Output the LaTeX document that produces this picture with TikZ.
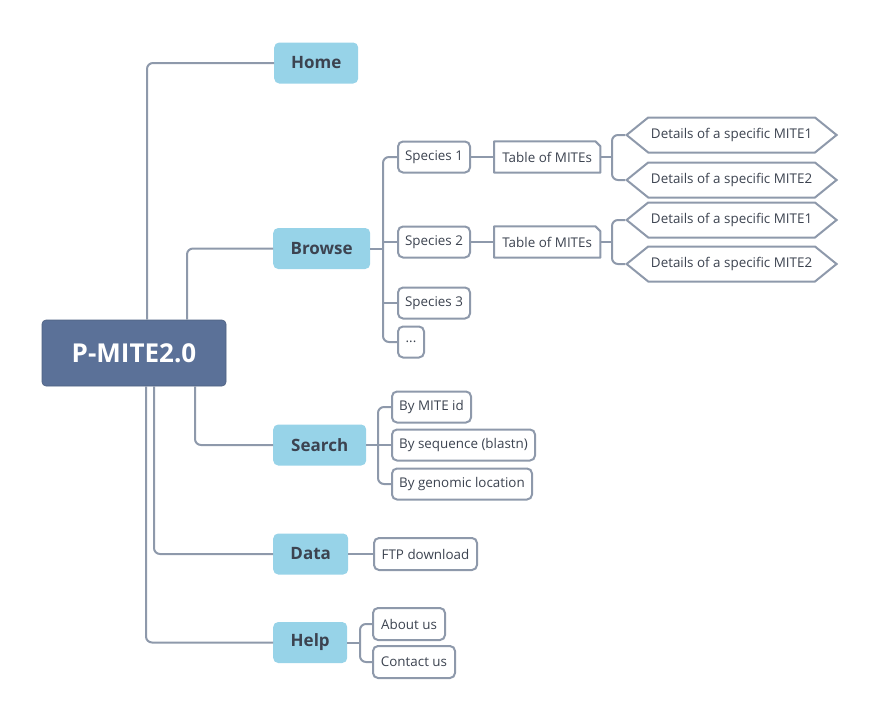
\documentclass[tikz,border=0pt]{standalone}
\usepackage{fontspec}
\setmainfont{Open Sans}
\usetikzlibrary{shapes.symbols}
\definecolor{rootfill}{HTML}{5B7198}
\definecolor{topfill}{HTML}{97D3E8}
\definecolor{linec}{HTML}{8E99AB}
\definecolor{txt}{HTML}{3C4350}
\tikzset{
  conn/.style={draw=linec, line width=2pt, rounded corners=6pt},
  rootbox/.style={fill=rootfill, draw=rootfill!85!black, line width=0.6pt, rounded corners=4pt, text=white,
     minimum width=184pt, minimum height=66pt, inner sep=0pt, font=\fontsize{26}{30}\selectfont\bfseries},
  topbox/.style={fill=topfill, draw=none, rounded corners=5pt, text=txt, anchor=west,
     minimum height=41pt, inner sep=0pt, font=\fontsize{17}{20}\selectfont\bfseries},
  leaf/.style={fill=white, draw=linec, line width=2pt, rounded corners=5pt, text=txt, anchor=west,
     minimum height=31pt, inner sep=0pt, font=\fontsize{13.4}{16}\selectfont},
  tablebox/.style={text=txt, anchor=west, minimum height=31pt, minimum width=106pt, inner sep=0pt,
     font=\fontsize{13.4}{16}\selectfont},
  hexbox/.style={shape=signal, signal to=west and east, signal pointer angle=78, fill=white, draw=linec,
     line width=2pt, text=txt, anchor=west, minimum height=35pt, minimum width=210pt, inner sep=0pt,
     font=\fontsize{13.4}{16}\selectfont},
}
\begin{document}
\begin{tikzpicture}[x=1pt,y=-1pt]
\useasboundingbox (0,0) rectangle (876,720);

% top-level
\node[rootbox] (root) at (134,353) {P-MITE2.0};
\node[topbox, minimum width=84pt] (home) at (274,63) {Home};
\node[topbox, minimum width=97pt] (browse) at (273,248.5) {Browse};
\node[topbox, minimum width=93pt] (search) at (273,445) {Search};
\node[topbox, minimum width=75pt] (data) at (273,554) {Data};
\node[topbox, minimum width=74pt] (help) at (273,642.5) {Help};

% root connectors
\draw[conn] ([xshift=13pt]root.north) |- (home.west);
\draw[conn] ([xshift=53pt]root.north) |- (browse.west);
\draw[conn] ([xshift=61pt]root.south) |- (search.west);
\draw[conn] ([xshift=20pt]root.south) |- (data.west);
\draw[conn] ([xshift=12pt]root.south) |- (help.west);

% Browse children
\node[leaf, minimum width=72pt] (sp1) at (397,157) {Species 1};
\node[leaf, minimum width=72pt] (sp2) at (397,242) {Species 2};
\node[leaf, minimum width=72pt] (sp3) at (397,303) {Species 3};
\node[leaf, minimum width=26pt] (dots) at (397,342) {...};
\coordinate (bt) at (383,248.5);
\draw[conn] (browse.east) -- (bt);
\draw[conn] (sp1.west) -| (bt) |- (dots.west);
\draw[conn] (bt |- sp2) -- (sp2.west);
\draw[conn] (bt |- sp3) -- (sp3.west);

% Tables
\node[tablebox] (t1) at (494,157) {};
\node[tablebox] (t2) at (494,242) {};
\foreach \t in {t1,t2}{
  \draw[draw=linec, line width=2pt, fill=white, line join=round]
    (\t.south west) -- (\t.north west) -- ([xshift=-5pt]\t.north east) -- ([yshift=-5pt]\t.north east)
    -- (\t.south east) -- cycle;
  \node[tablebox] at (\t.west) {Table of MITEs};
}
\draw[conn] (sp1.east) -- (t1.west);
\draw[conn] (sp2.east) -- (t2.west);

% Details
\node[hexbox] (d11) at (625,135) {Details of a specific MITE1};
\node[hexbox] (d12) at (625,180) {Details of a specific MITE2};
\node[hexbox] (d21) at (625,220) {Details of a specific MITE1};
\node[hexbox] (d22) at (625,264) {Details of a specific MITE2};
\coordinate (tt1) at (612,157);
\coordinate (tt2) at (612,242);
\draw[conn] (t1.east) -- (tt1);
\draw[conn] (t2.east) -- (tt2);
\draw[conn] (d11.west) -| (tt1) |- (d12.west);
\draw[conn] (d21.west) -| (tt2) |- (d22.west);

% Search children
\node[leaf, minimum width=79pt] (bymite) at (391,407) {By MITE id};
\node[leaf, minimum width=143pt] (byseq) at (391,445) {By sequence (blastn)};
\node[leaf, minimum width=140pt] (bygen) at (391,484) {By genomic location};
\coordinate (st) at (378,445);
\draw[conn] (search.east) -- (st);
\draw[conn] (bymite.west) -| (st) |- (bygen.west);
\draw[conn] (st) -- (byseq.west);

% Data child
\node[leaf, minimum width=103pt, minimum height=32pt] (ftp) at (373,554) {FTP download};
\draw[conn] (data.east) -- (ftp.west);

% Help children
\node[leaf, minimum width=72pt, minimum height=32pt] (about) at (372,624) {About us};
\node[leaf, minimum width=82pt, minimum height=32pt] (contact) at (372,662) {Contact us};
\coordinate (ht) at (360,642.5);
\draw[conn] (help.east) -- (ht);
\draw[conn] (about.west) -| (ht) |- (contact.west);
\end{tikzpicture}
\end{document}
